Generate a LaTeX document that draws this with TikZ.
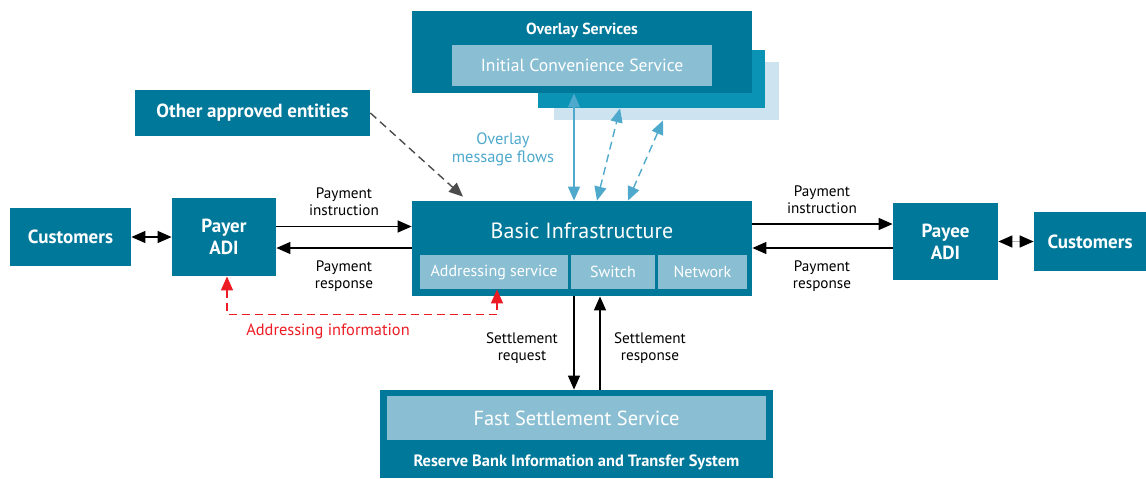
\documentclass[tikz,border=0pt]{standalone}
\usepackage{fontspec}
\setmainfont{PT Sans}
\usetikzlibrary{arrows.meta,calc}
\definecolor{rbateal}{RGB}{0,120,154}
\definecolor{rbamid}{RGB}{10,147,181}
\definecolor{rbapale}{RGB}{205,227,239}
\definecolor{rbalight}{RGB}{138,191,211}
\definecolor{flowblue}{RGB}{78,169,204}
\definecolor{addrred}{RGB}{237,28,36}
\tikzset{
  box/.style={fill=rbateal, text=white, inner sep=0pt, align=center,
    font=\fontsize{9.5}{11}\selectfont\bfseries},
  sub/.style={fill=rbalight, text=white, inner sep=0pt, align=center,
    font=\fontsize{8}{10}\selectfont},
  lbl/.style={align=center, font=\fontsize{7.6}{8.4}\selectfont},
  tip/.style={line width=0.7pt, -{Triangle[length=7pt,width=6pt]}},
  twotip/.style={line width=0.7pt, {Triangle[length=7pt,width=6pt]}-{Triangle[length=7pt,width=6pt]}},
  longdash/.style={dash pattern=on 4pt off 2.5pt},
}
\begin{document}
\begin{tikzpicture}[x=0.5pt, y=-0.5pt]
    \useasboundingbox (0,0) rectangle (1146,478);
    % overlay layers
    \node[fill=rbapale, minimum width=112.5pt, minimum height=29pt] (layerc) at (666.5,91) {};
    \node[fill=rbamid, minimum width=113.5pt, minimum height=29pt] (layerb) at (651.5,79) {};
    \node[box, minimum width=170pt, minimum height=41pt] (ovl) at (582,52) {};
    \node[box, font=\fontsize{8}{10}\selectfont\bfseries] (ovltitle) at (582,30) {Overlay Services};
    \node[sub, minimum width=130pt, minimum height=20.5pt, font=\fontsize{8.8}{10}\selectfont] (ics) at (582,65.5) {Initial Convenience Service};
    % left side
    \node[box, minimum width=60.5pt, minimum height=29pt] (custl) at (70.5,237) {Customers};
    \node[box, minimum width=52pt, minimum height=39pt] (payer) at (224,237) {Payer\\ADI};
    \node[box, minimum width=117.5pt, minimum height=23pt] (other) at (252.5,113) {Other approved entities};
    % basic infrastructure
    \node[box, minimum width=170pt, minimum height=47.5pt] (binf) at (582,248.5) {};
    \node[box, font=\fontsize{11}{13}\selectfont] (binftitle) at (582,231) {Basic Infrastructure};
    \node[sub, minimum width=74pt, minimum height=17pt] (addr) at (494,272) {Addressing service};
    \node[sub, minimum width=42pt, minimum height=17pt] (switch) at (613,272) {Switch};
    \node[sub, minimum width=44.5pt, minimum height=17pt] (network) at (702.5,272) {Network};
    % right side
    \node[box, minimum width=52.5pt, minimum height=38.5pt] (payee) at (945.5,241.5) {Payee\\ADI};
    \node[box, minimum width=56pt, minimum height=29.5pt] (custr) at (1090,241.5) {Customers};
    % settlement
    \node[box, minimum width=196.5pt, minimum height=44pt] (rits) at (576.5,434) {};
    \node[sub, minimum width=189.5pt, minimum height=22pt, font=\fontsize{10.2}{12}\selectfont] (fss) at (576.5,418) {Fast Settlement Service};
    \node[box, font=\fontsize{8.2}{10}\selectfont\bfseries] (ritstitle) at (576.5,462) {Reserve Bank Information and Transfer System};
    % payment flows
    \draw[tip] ([yshift=5.25pt]payer.east) -- ([yshift=5.25pt]payer.east -| binf.west);
    \draw[tip] ([yshift=-5.5pt]payer.east -| binf.west) -- ([yshift=-5.5pt]payer.east);
    \draw[tip] ([yshift=8.75pt]payee.west -| binf.east) -- ([yshift=8.75pt]payee.west);
    \draw[tip] ([yshift=-3.25pt]payee.west) -- ([yshift=-3.25pt]payee.west -| binf.east);
    \node[lbl] (pil) at (344,202) {Payment\\instruction};
    \node[lbl] (prl) at (344,276) {Payment\\response};
    \node[lbl] (pir) at (822,200) {Payment\\instruction};
    \node[lbl] (prr) at (822,276) {Payment\\response};
    \draw[twotip] (custl) -- (payer);
    \draw[line width=0.7pt, gray!60, {Triangle[length=7pt,width=6pt,color=black]}-{Triangle[length=7pt,width=6pt,color=black]}] (payee) -- (custr);
    % other entities
    \draw[tip, longdash, gray!60!black] (other.east) -- ($(binf.north)+(-119,-4)$);
    % overlay message flows
    \draw[twotip, flowblue] ($(binf.north)+(-8,0)$) -- ($(ovl.south)+(-8,0)$);
    \draw[twotip, flowblue, longdash] ($(binf.north)+(15,0)$) -- ($(layerb.south)+(-31.5,0)$);
    \draw[twotip, flowblue, longdash] ($(binf.north)+(46,0)$) -- ($(layerc.south)+(-3.5,0)$);
    \node[lbl, text=flowblue, font=\fontsize{8.2}{9}\selectfont] (ovlflows) at (503,149) {Overlay\\message flows};
    % addressing information
    \draw[twotip, addrred, longdash] ([xshift=1.5pt]payer.south) -- ++(0,38) -| ([xshift=1.5pt]addr.south);
    \node[lbl, text=addrred, font=\fontsize{8.2}{9}\selectfont] (addrinfo) at (328,331) {Addressing information};
    % settlement flows
    \draw[tip] ($(binf.south)+(-8,0)$) -- ($(rits.north)+(-2.5,0)$);
    \draw[tip] ($(rits.north)+(23.5,0)$) -- ($(binf.south)+(18,0)$);
    \node[lbl] (sreq) at (522,348) {Settlement\\request};
    \node[lbl] (sresp) at (650,348) {Settlement\\response};
\end{tikzpicture}
\end{document}
